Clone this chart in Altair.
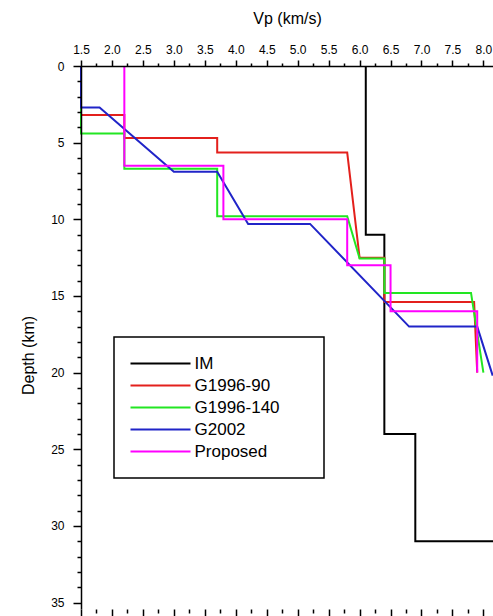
import altair as alt
import pandas as pd

# ---- data ----
models = ["IM", "G1996-90", "G1996-140", "G2002", "Proposed"]
colors = ["#000000", "#e3201c", "#22e622", "#2024c8", "#ff00ff"]
widths = [2, 2, 2, 2, 4.5]

im_vp = [6.1, 6.1, 6.4, 6.4, 6.9, 6.9, 8.2]
im_depth = [0, 11, 11, 24, 24, 31, 31]

g90_vp = [1.5, 1.5, 2.2, 2.2, 3.7, 3.7, 5.8, 6.0, 6.4, 6.4, 7.85, 7.9]
g90_depth = [0, 3.2, 3.2, 4.7, 4.7, 5.65, 5.65, 12.5, 12.5, 15.4, 15.4, 20]

g140_vp = [1.5, 1.5, 2.2, 2.2, 3.7, 3.7, 5.8, 6.0, 6.4, 6.4, 7.8, 8.0]
g140_depth = [0, 4.4, 4.4, 6.7, 6.7, 9.8, 9.8, 12.55, 12.55, 14.8, 14.8, 20]

g2002_vp = [1.5, 1.5, 1.8, 3.0, 3.7, 4.2, 5.2, 6.8, 7.9, 8.15]
g2002_depth = [0, 2.7, 2.7, 6.9, 6.9, 10.3, 10.3, 17.0, 17.0, 20.2]

prop_vp = [2.2, 2.2, 3.8, 3.8, 5.8, 5.8, 6.5, 6.5, 7.9, 7.9]
prop_depth = [0, 6.5, 6.5, 10.0, 10.0, 13.0, 13.0, 16.0, 16.0, 20.0]

x_major = [1.5, 2.0, 2.5, 3.0, 3.5, 4.0, 4.5, 5.0, 5.5, 6.0, 6.5, 7.0, 7.5, 8.0]
x_minor = [1.75, 2.25, 2.75, 3.25, 3.75, 4.25, 4.75, 5.25, 5.75, 6.25, 6.75, 7.25, 7.75]
y_major = [0, 5, 10, 15, 20, 25, 30, 35]
y_minor = [1, 2, 3, 4, 6, 7, 8, 9, 11, 12, 13, 14, 16, 17, 18, 19,
           21, 22, 23, 24, 26, 27, 28, 29, 31, 32, 33, 34]

FONT = "Liberation Sans"

xscale = alt.Scale(domain=[1.5, 8.155], nice=False, zero=False)
yscale = alt.Scale(domain=[0, 35.42], reverse=True, nice=False, zero=False)

PAD = "\u00a0" * 6 + "\u200b"
legend = alt.Legend(
    orient="none", legendX=33, legendY=271, title=None,
    symbolType="stroke", symbolSize=3600, clipHeight=22, rowPadding=0,
    padding=15.5, labelOffset=3, labelFont=FONT, labelFontSize=17,
    labelColor="black", strokeColor="black", fillColor="white",
    labelExpr="datum.label + '" + PAD + "'",
)
color = alt.Color("model:N", scale=alt.Scale(domain=models, range=colors), legend=legend)
swidth = alt.StrokeWidth("model:N", scale=alt.Scale(domain=models, range=widths), legend=legend)

TICKS = dict(ticks=True, tickColor="black", tickOpacity=1, tickWidth=1.5, grid=False, zindex=1)

top_major = alt.Axis(orient="top", values=x_major, format=".1f", tickSize=6,
                     domainWidth=1.5, domainColor="black",
                     labelFont=FONT, labelFontSize=12, labelColor="black", labelPadding=4,
                     labelFlush=False, labelOverlap=False,
                     title="Vp (km/s)", titleFont=FONT, titleFontSize=16,
                     titleFontWeight="normal", titleColor="black", titlePadding=17, **TICKS)
top_minor = alt.Axis(orient="top", values=x_minor, labels=False, tickSize=3,
                     domain=False, title=None, **TICKS)
bot_major = alt.Axis(orient="bottom", values=x_major, labels=False, tickSize=8,
                     domain=False, title=None, **TICKS)
bot_minor = alt.Axis(orient="bottom", values=x_minor, labels=False, tickSize=4,
                     domain=False, title=None, **TICKS)
left_major = alt.Axis(orient="left", values=y_major, tickSize=8,
                      domainWidth=1.5, domainColor="black",
                      labelFont=FONT, labelFontSize=12, labelColor="black", labelPadding=9,
                      labelFlush=False, labelOverlap=False,
                      title="Depth (km)", titleFont=FONT, titleFontSize=16,
                      titleFontWeight="normal", titleColor="black", titlePadding=14,
                      titleY=289, **TICKS)
left_minor = alt.Axis(orient="left", values=y_minor, labels=False, tickSize=4,
                      domain=False, title=None, **TICKS)


def frame(name, vps, ds):
    return pd.DataFrame({"vp": vps, "depth": ds, "model": name, "idx": list(range(len(vps)))})


def layer(name, vps, ds, xaxis, yaxis):
    return alt.Chart(frame(name, vps, ds)).mark_line(clip=False).encode(
        x=alt.X("vp:Q", scale=xscale, axis=xaxis),
        y=alt.Y("depth:Q", scale=yscale, axis=yaxis),
        color=color,
        strokeWidth=swidth,
        order="idx:Q",
    )


# invisible carrier layer holding the minor depth ticks
carrier = alt.Chart(frame("IM", im_vp, im_depth)).mark_line(opacity=0).encode(
    x=alt.X("vp:Q", scale=xscale, axis=None),
    y=alt.Y("depth:Q", scale=yscale, axis=left_minor),
    order="idx:Q",
)

chart = alt.layer(
    carrier,
    layer("IM", im_vp, im_depth, top_major, None),
    layer("G1996-90", g90_vp, g90_depth, top_minor, None),
    layer("G1996-140", g140_vp, g140_depth, bot_major, None),
    layer("G2002", g2002_vp, g2002_depth, bot_minor, None),
    layer("Proposed", prop_vp, prop_depth, None, left_major),
).resolve_axis(
    x="independent", y="independent"
).properties(
    width=412, height=543,
    autosize=alt.AutoSizeParams(type="none"),
    padding={"left": 81, "top": 66, "right": 0, "bottom": 7},
    background="white",
).configure_view(stroke=None).configure_legend(strokeWidth=1.5)

chart.save("out.html", embed_options={"renderer": "svg", "actions": False})
